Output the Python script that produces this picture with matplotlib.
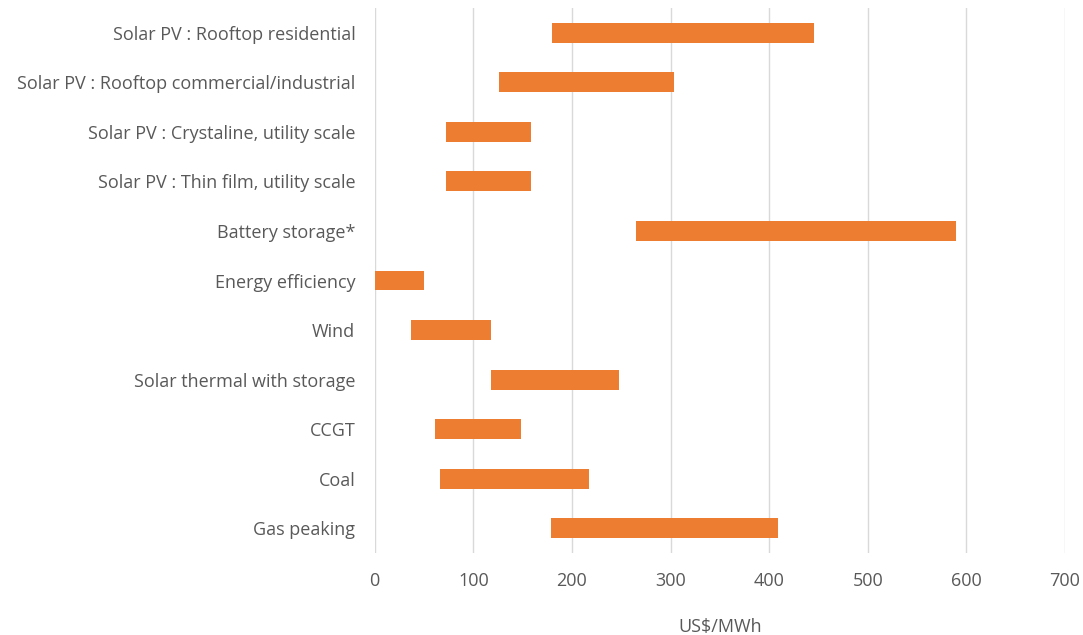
import matplotlib.pyplot as plt
from matplotlib import rcParams

rcParams['font.family'] = ['Open Sans', 'DejaVu Sans']

# 技術ごとの均等化発電原価レンジ (US$/MWh)
categories = [
    'Solar PV : Rooftop residential',
    'Solar PV : Rooftop commercial/industrial',
    'Solar PV : Crystaline, utility scale',
    'Solar PV : Thin film, utility scale',
    'Battery storage*',
    'Energy efficiency',
    'Wind',
    'Solar thermal with storage',
    'CCGT',
    'Coal',
    'Gas peaking',
]
low_values = [180, 126, 72, 72, 265, 0, 37, 118, 61, 66, 179]
high_values = [445, 303, 158, 158, 589, 50, 118, 248, 148, 217, 409]
x_ticks = [0, 100, 200, 300, 400, 500, 600, 700]

text_color = '#595959'
bar_color = '#ED7D31'
grid_color = '#D9D9D9'

fig = plt.figure(figsize=(10.83, 6.35), dpi=100)
ax = fig.add_axes([374.7 / 1083, 1 - 553 / 635, (1065 - 374.7) / 1083, (553 - 8) / 635])

y_pos = list(range(len(categories)))[::-1]
widths = [h - l for l, h in zip(low_values, high_values)]
ax.barh(y_pos, widths, left=low_values, height=0.4, color=bar_color, zorder=3)

ax.set_ylim(-0.5, len(categories) - 0.5)
ax.set_xlim(0, 700)
ax.set_xticks(x_ticks)
ax.set_yticks(y_pos)
ax.set_yticklabels(categories)

ax.grid(axis='x', color=grid_color, linewidth=1, zorder=0)
for spine in ax.spines.values():
    spine.set_visible(False)

ax.tick_params(axis='both', length=0, labelsize=13, colors=text_color)
ax.tick_params(axis='x', pad=14)
ax.tick_params(axis='y', pad=14)
ax.set_xlabel('US$/MWh', fontsize=13, color=text_color, labelpad=20)

fig.savefig('out.png', dpi=100)
